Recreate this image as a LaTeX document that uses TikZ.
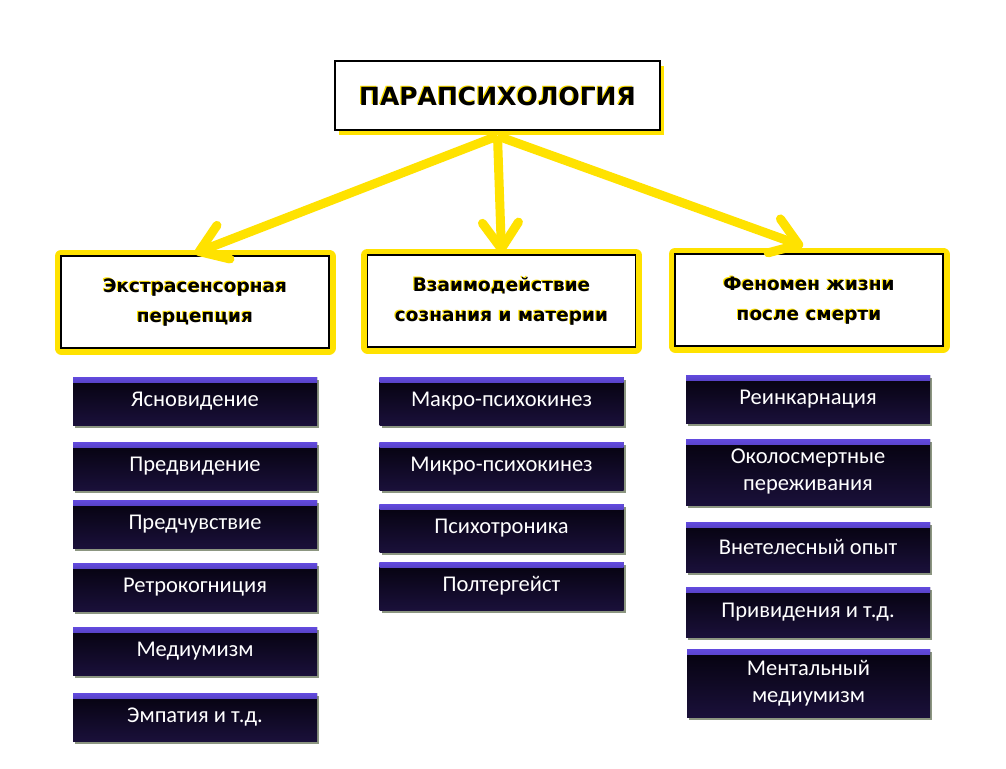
\documentclass[tikz,border=0pt]{standalone}
\usepackage{fontspec}
\setmainfont{Carlito}
\newfontfamily\headfont{DejaVu Sans}
\usetikzlibrary{arrows.meta,shadows}
\definecolor{ybright}{RGB}{255,226,0}
\definecolor{navytop}{RGB}{98,74,222}
\definecolor{navybot}{RGB}{26,16,58}
\definecolor{inkblack}{RGB}{5,2,14}
\definecolor{mossgray}{RGB}{112,124,98}
\tikzset{
  >={Straight Barb[length=26pt,width=36pt,line cap=round,line join=round]},
  feed/.style = {->,draw=ybright,line width=9pt},
  rootbox/.style = {draw=black,line width=2pt,fill=white,
    minimum width=325pt,minimum height=69pt,
    drop shadow={shadow xshift=4pt,shadow yshift=-5pt,fill=ybright,opacity=1},
    font=\headfont\fontsize{25}{30}\selectfont\bfseries},
  catbox/.style = {draw=black,line width=1.6pt,fill=white,align=center,
    minimum width=268pt,minimum height=92pt,
    preaction={draw=ybright,line width=13pt,line join=round},
    font=\headfont\fontsize{18.5}{30}\selectfont\bfseries},
  itembox/.style = {minimum width=244pt,minimum height=48pt,align=center,
    text=white,top color=inkblack,bottom color=navybot,
    path picture={\shade[top color=navytop,bottom color=inkblack]
      (path picture bounding box.north west) rectangle
      ([yshift=-5pt]path picture bounding box.north east);},
    drop shadow={shadow xshift=2pt,shadow yshift=-3pt,fill=mossgray,opacity=0.8},
    font=\fontsize{22.5}{27}\selectfont}
}
\newcommand{\ylift}[1]{\rlap{\kern-1.2pt\raisebox{1pt}{\color{ybright}#1}}#1}

\begin{document}
\begin{tikzpicture}[x=1pt,y=-1pt]
  \fill[white] (0,0) rectangle (1006,768);
  \useasboundingbox (0,0) rectangle (1006,768);
  \node[rootbox] (root) at (497.5,95.5) {\ylift{ПАРАПСИХОЛОГИЯ}};
  \coordinate (hub) at ([yshift=-5pt]root.south);
  \node[catbox] (esp) at (195,302) {\ylift{Экстрасенсорная}\\\ylift{перцепция}};
  \node[catbox] (mind) at (501.5,301) {\ylift{Взаимодействие}\\\ylift{сознания и материи}};
  \node[catbox] (life) at (809,300) {\ylift{Феномен жизни}\\\ylift{после смерти}};
  \draw[feed] (hub) -- ([yshift=2pt]esp.north);
  \draw[feed] (hub) -- ([yshift=1pt]mind.north);
  \draw[feed] (hub) -- ([xshift=-6pt,yshift=7pt]life.north);
  \node[itembox] (clair) at (195,401) {Ясновидение};
  \node[itembox] (precog) at (195,466) {Предвидение};
  \node[itembox] (presage) at (195,524) {Предчувствие};
  \node[itembox] (retro) at (195,587) {Ретрокогниция};
  \node[itembox] (medium) at (195,651) {Медиумизм};
  \node[itembox] (empathy) at (195,717) {Эмпатия и т.д.};
  \node[itembox] (macro) at (501.5,401) {Макро-психокинез};
  \node[itembox] (micro) at (501.5,466) {Микро-психокинез};
  \node[itembox] (tronic) at (501.5,528) {Психотроника};
  \node[itembox] (polter) at (501.5,586) {Полтергейст};
  \node[itembox] (reinc) at (808,399) {Реинкарнация};
  \node[itembox,minimum height=66pt,text width=230pt] (nde) at (808,472) {Околосмертные\\переживания};
  \node[itembox,minimum height=50pt] (obe) at (808,547) {Внетелесный опыт};
  \node[itembox,minimum height=50pt] (ghost) at (808,612) {Привидения и т.д.};
  \node[itembox,minimum height=68pt,minimum width=243pt,text width=230pt] (mental) at (808.5,683) {Ментальный\\медиумизм};
\end{tikzpicture}
\end{document}
